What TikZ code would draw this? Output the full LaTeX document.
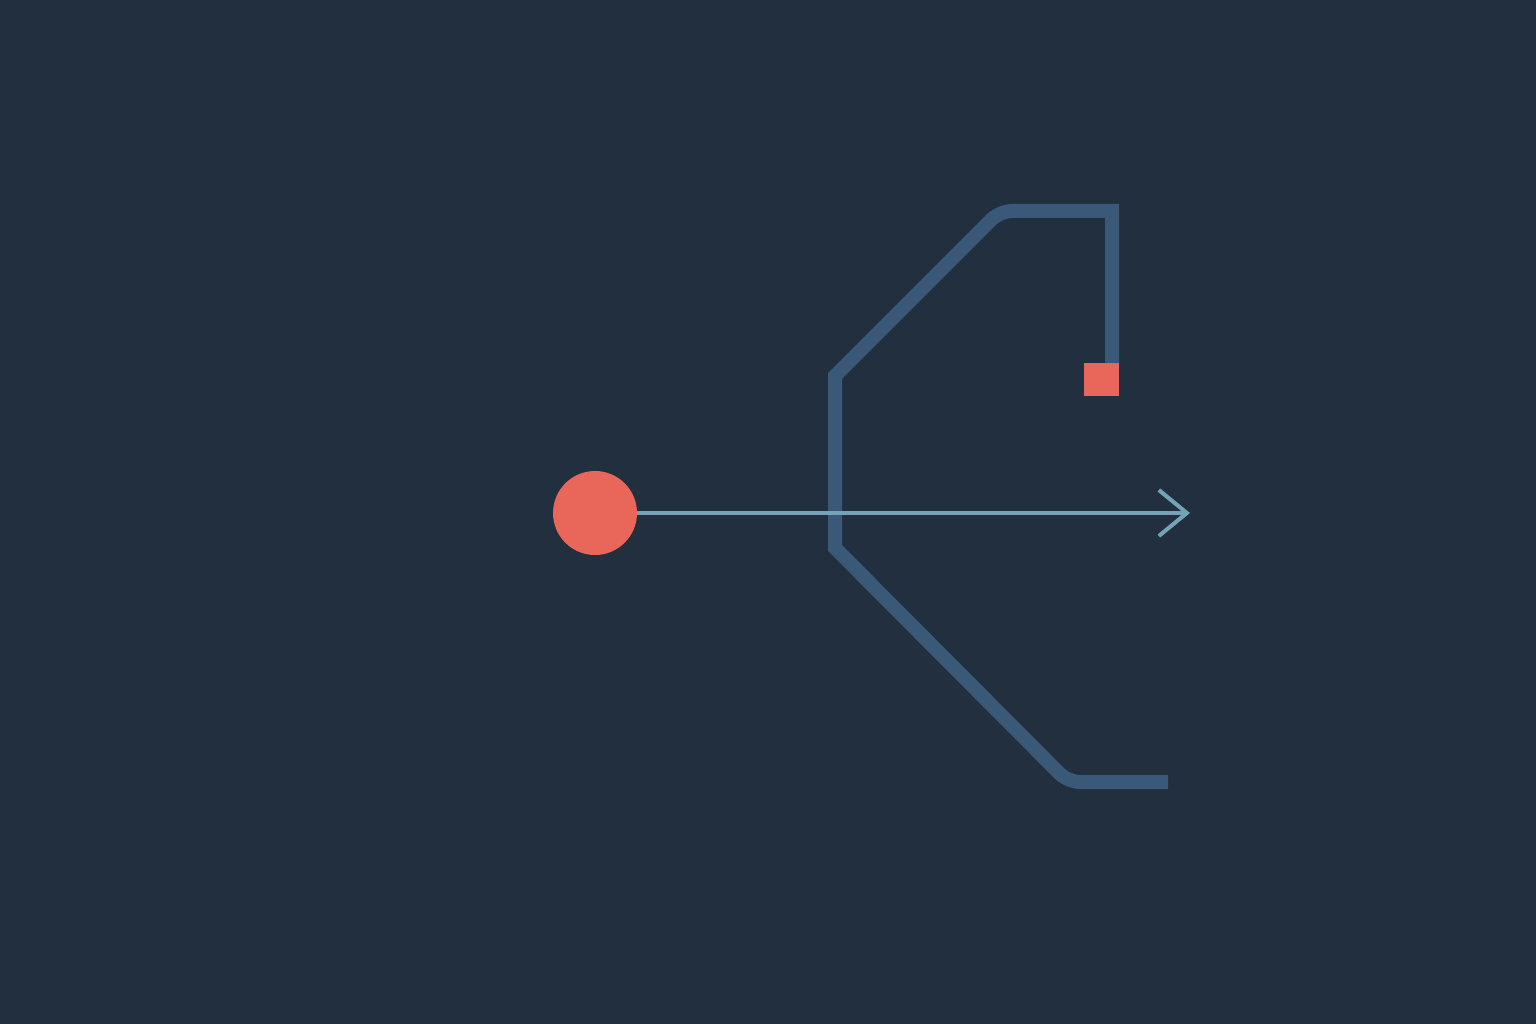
\documentclass[tikz,border=0pt]{standalone}
\usetikzlibrary{arrows.meta}
\definecolor{bgc}{HTML}{212F3F}
\definecolor{pathc}{HTML}{3A5877}
\definecolor{redc}{HTML}{E8675A}
\definecolor{arrc}{HTML}{74A3B8}
\tikzset{
  pipe/.style={draw=pathc, line width=14pt, line cap=butt, line join=miter},
  ray/.style={draw=arrc, line width=4pt, -{Straight Barb[length=28pt,width=46pt]}},
  dot/.style={circle, fill=redc, minimum size=84pt, inner sep=0pt},
  block/.style={rectangle, fill=redc, minimum width=35pt, minimum height=33pt, inner sep=0pt}
}
\begin{document}
\begin{tikzpicture}[x=1pt,y=-1pt]
\fill[bgc] (0,0) rectangle (1536,1024);
\useasboundingbox (0,0) rectangle (1536,1024);
\draw[pipe] (1112,370) -- (1112,211) {[rounded corners=12pt] -- (1000,211)} -- (835,376) -- (835,548) {[rounded corners=12pt] -- (1068,782)} -- (1168,782);
\node[block] (sq) at (1101.5,379.5) {};
\node[dot] (src) at (595,513) {};
\coordinate (tip) at (1190,513);
\draw[ray] (src.east) -- (tip);
\end{tikzpicture}
\end{document}
